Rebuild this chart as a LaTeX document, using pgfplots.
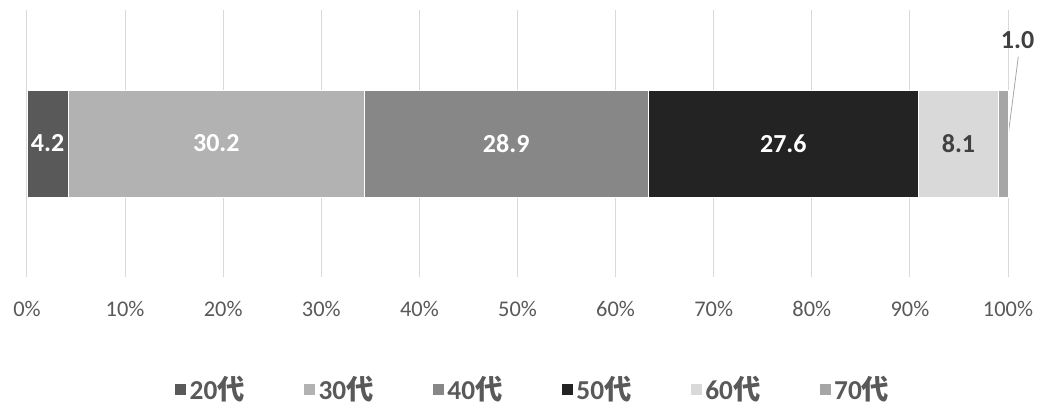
\documentclass[border=0pt]{standalone}
\usepackage{fontspec}
\setmainfont{Carlito}
\newfontfamily\jp{Noto Sans CJK JP}
\usepackage{pgfplots}
\pgfplotsset{compat=1.18}

\definecolor{c20}{HTML}{595959}
\definecolor{c30}{HTML}{B2B2B2}
\definecolor{c40}{HTML}{878787}
\definecolor{c50}{HTML}{232323}
\definecolor{c60}{HTML}{D9D9D9}
\definecolor{c70}{HTML}{A6A6A6}
\definecolor{cgrid}{HTML}{D9D9D9}
\definecolor{ctick}{HTML}{595959}
\definecolor{clab}{HTML}{404040}

\begin{document}
\begin{tikzpicture}[x=1pt,y=1pt]
\useasboundingbox (0,0) rectangle (783.75,306);
\begin{axis}[
  at={(20.25pt,98.25pt)}, anchor=south west,
  scale only axis, width=735.75pt, height=200.25pt,
  xmin=0, xmax=100, ymin=0, ymax=1,
  xbar stacked, bar width=80.25pt,
  axis line style={draw=none}, ytick=\empty,
  xtick={0,10,...,100},
  xmajorgrids, major grid style={draw=cgrid, line width=0.75pt},
  tick style={draw=none},
  /pgf/number format/assume math mode=true,
  xticklabel={\pgfmathprintnumber{\tick}\%},
  xticklabel style={anchor=base, yshift=-29.25pt,
    font=\fontsize{16.8}{18}\selectfont, text=ctick},
  clip=false,
  % stacked bars put these labels in the middle of each segment
  nodes near coords, point meta=explicit symbolic,
  every node near coord/.append style={anchor=center,
    font=\fontsize{19.5}{21}\selectfont\bfseries, text=white},
  legend columns=6,
  legend style={at={(0.516,-0.418)}, anchor=center, draw=none, fill=none,
    inner sep=1pt, font=\fontsize{20.5}{22}\selectfont\bfseries, text=ctick,
    /tikz/every even column/.append style={column sep=42pt}},
  legend image code/.code={\fill[#1] (0pt,-4.8pt) rectangle (9pt,4.2pt);},
]
\addplot[fill=c20, draw=white, line width=0.4pt] coordinates {(4.2,0.5) [4.2]};
\addlegendentry{20{\jp 代}}
\addplot[fill=c30, draw=white, line width=0.4pt] coordinates {(30.2,0.5) [30.2]};
\addlegendentry{30{\jp 代}}
\addplot[fill=c40, draw=white, line width=0.4pt] coordinates {(28.9,0.5) [28.9]};
\addlegendentry{40{\jp 代}}
\addplot[fill=c50, draw=white, line width=0.4pt] coordinates {(27.6,0.5) [27.6]};
\addlegendentry{50{\jp 代}}
\addplot[fill=c60, draw=white, line width=0.4pt,
  every node near coord/.append style={text=clab}] coordinates {(8.1,0.5) [8.1]};
\addlegendentry{60{\jp 代}}
\addplot[fill=c70, draw=white, line width=0.4pt,
  every node near coord/.append style={text=clab, xshift=10.9pt, yshift=77.6pt}]
  coordinates {(1.0,0.5) [1.0]};
\addlegendentry{70{\jp 代}}
% leader line from the 1.0 label down to its segment
\draw[c70, line width=0.6pt] (axis cs:99.9,0.5) -- (axis cs:101.05,0.825);
\end{axis}
\end{tikzpicture}
\end{document}
